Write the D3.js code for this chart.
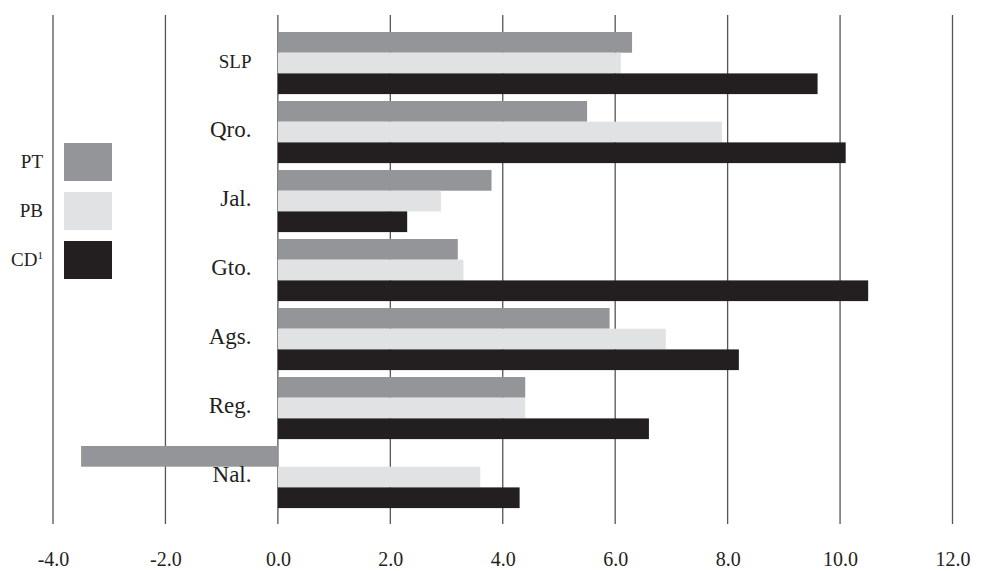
<!DOCTYPE html>
<html>
<head>
<meta charset="utf-8">
<script src="https://cdn.jsdelivr.net/npm/d3@7"></script>
<style>
  html, body { margin: 0; padding: 0; background: #fff; overflow: hidden; }
  svg { display: block; }
  text { font-family: "Liberation Serif", "Times New Roman", serif; fill: #231f20; }
</style>
</head>
<body>
<svg id="chart" width="983" height="571"></svg>
<script>
// ---- data ----
const categories = ["SLP", "Qro.", "Jal.", "Gto.", "Ags.", "Reg.", "Nal."];
const seriesNames = ["PT", "PB", "CD"];
const PT = [6.3, 5.5, 3.8, 3.2, 5.9, 4.4, -3.5];
const PB = [6.1, 7.9, 2.9, 3.3, 6.9, 4.4, 3.6];
const CD = [9.6, 10.1, 2.3, 10.5, 8.2, 6.6, 4.3];
const xTicks = [-4, -2, 0, 2, 4, 6, 8, 10, 12];

// ---- styles ----
const colors = { PT: "#939598", PB: "#e1e2e3", CD: "#231f20" };
const seriesValues = { PT, PB, CD };

const svg = d3.select("#chart");

const x = d3.scaleLinear().domain([-4, 12]).range([53, 952.5]);
const y = d3.scaleBand().domain(categories).range([28.55, 511.55])
  .paddingInner(0.1).paddingOuter(0.05);
const ys = d3.scaleBand().domain(seriesNames).range([0, y.bandwidth()]);

// gridlines
svg.append("g").selectAll("line").data(xTicks).join("line")
  .attr("x1", d => x(d)).attr("x2", d => x(d))
  .attr("y1", 15).attr("y2", 524)
  .attr("stroke", "#555").attr("stroke-width", 1.3);

// bars
const groups = svg.append("g").selectAll("g").data(categories).join("g")
  .attr("transform", d => `translate(0,${y(d)})`);

groups.selectAll("rect")
  .data((c, i) => seriesNames.map(s => ({ s, v: seriesValues[s][i] })))
  .join("rect")
  .attr("x", d => x(Math.min(0, d.v)))
  .attr("width", d => Math.abs(x(d.v) - x(0)))
  .attr("y", d => ys(d.s))
  .attr("height", ys.bandwidth())
  .attr("fill", d => colors[d.s]);

// category labels
svg.append("g").selectAll("text").data(categories).join("text")
  .attr("x", 251.5)
  .attr("y", d => y(d) + y.bandwidth() / 2 + 5)
  .attr("text-anchor", "end")
  .attr("font-size", d => d === "SLP" ? 19 : 23)
  .text(d => d);

// x axis labels
const axis = d3.axisBottom(x).tickValues(xTicks).tickSize(0).tickPadding(0)
  .tickFormat(d => d.toFixed(1));
const ax = svg.append("g").attr("transform", "translate(0,566)").call(axis);
ax.select(".domain").remove();
ax.selectAll("text").attr("font-size", 20).attr("dy", 0)
  .attr("font-family", "Liberation Serif, serif").attr("fill", "#231f20");

// legend
const legend = svg.append("g");
const legY = d3.scalePoint().domain(seriesNames).range([162, 260]);
legend.selectAll("rect").data(seriesNames).join("rect")
  .attr("x", 64).attr("width", 48)
  .attr("y", d => legY(d) - 19).attr("height", 38)
  .attr("fill", d => colors[d]);
const lt = legend.selectAll("text").data(seriesNames).join("text")
  .attr("x", 43).attr("y", d => legY(d) + 6)
  .attr("text-anchor", "end").attr("font-size", 19);
lt.append("tspan").text(d => d);
lt.filter(d => d === "CD").append("tspan")
  .attr("font-size", 11).attr("dy", -7).text("1");
</script>
</body>
</html>
